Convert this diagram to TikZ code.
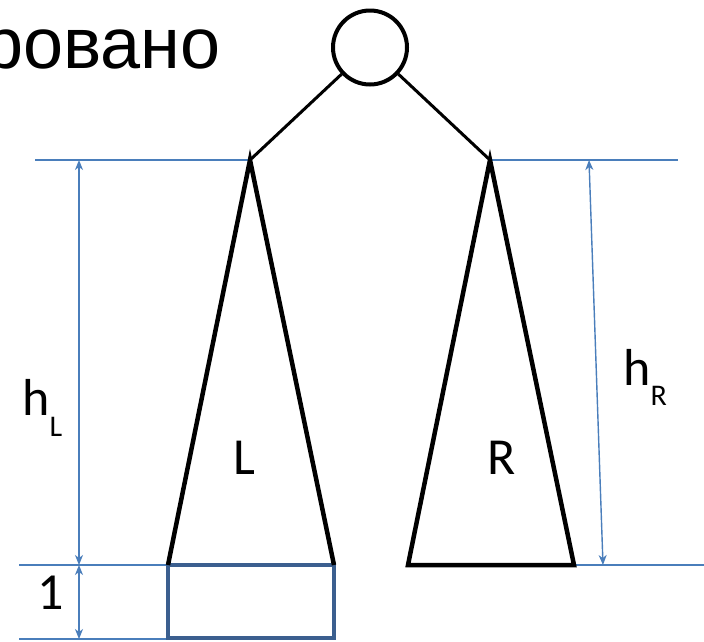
\documentclass[tikz,border=0pt]{standalone}
\usepackage{fontspec}
\setmainfont{Carlito}
\newfontfamily\titlefont{Liberation Sans}
\usetikzlibrary{arrows.meta}
\definecolor{dimblue}{HTML}{4A7EBB}
\definecolor{boxblue}{HTML}{3B5F8F}
\tikzset{
  dimline/.style={draw=dimblue, line width=1.4pt},
  dimarrow/.style={draw=dimblue, line width=1.4pt, {Stealth[length=10pt,width=8pt,inset=3pt]}-{Stealth[length=10pt,width=8pt,inset=3pt]}},
  tree/.style={draw=black, line width=3pt},
  subtree/.style={draw=black, line width=4.5pt, line join=miter},
  lbl/.style={inner sep=0pt, font=\fontsize{52}{60}\selectfont},
}
\begin{document}
\begin{tikzpicture}[x=1pt,y=-1pt]
\useasboundingbox (0,0) rectangle (704,641);
\clip (0,0) rectangle (704,641);
% title fragment
\node[anchor=base east, inner sep=0pt, font=\titlefont\fontsize{72}{76}\selectfont] (title) at (221,68) {ровано};
% root
\node[circle, draw=black, line width=4pt, minimum size=74pt, inner sep=0pt] (root) at (370,47.5) {};
% apexes and base corners
\coordinate (LA) at (250,160);
\coordinate (LB1) at (168,565);
\coordinate (LB2) at (334,565);
\coordinate (RA) at (490,160);
\coordinate (RB1) at (408,565);
\coordinate (RB2) at (574,565);
% blue guide lines
\coordinate (gTL) at (35,160);
\coordinate (gTR) at (678,160);
\coordinate (gML) at (19,565);
\coordinate (gMR) at (704,565);
\coordinate (gBL) at (19,639);
\coordinate (gBR) at (168,639);
\draw[dimline] (gTL) -- (LA);
\draw[dimline] (RA) -- (gTR);
\draw[dimline] (gML) -- (LB1);
\draw[dimline] (RB2) -- (gMR);
\draw[dimline] (gBL) -- (gBR);
% extra box
\coordinate (boxBR) at (334,638);
\draw[draw=boxblue, line width=4pt] (LB1) rectangle (boxBR);
% edges
\draw[tree] (root) -- (LA);
\draw[tree] (root) -- (RA);
% subtrees
\draw[subtree] (LB1) -- (LA) -- (LB2);
\draw[subtree] (RB1) -- (RA) -- (RB2) -- cycle;
\node[lbl] (Llbl) at (244.5,458) {L};
\node[lbl] (Rlbl) at (502,458) {R};
% dimensions
\coordinate (a1) at (79,160);
\coordinate (a2) at (79,565);
\coordinate (a3) at (79,639);
\coordinate (b1) at (589,160);
\coordinate (b2) at (603,565);
\draw[dimarrow] (a1) -- (a2);
\draw[dimarrow] (a2) -- (a3);
\draw[dimarrow] (b1) -- (b2);
\node[lbl, anchor=base west] (hL) at (22,415) {h\raisebox{-21pt}{\fontsize{30}{32}\selectfont L}};
\node[lbl, anchor=base west] (hR) at (623,385) {h\raisebox{-20pt}{\fontsize{30}{32}\selectfont R}};
\node[lbl, anchor=base] (one) at (51,609) {1};
\end{tikzpicture}
\end{document}
